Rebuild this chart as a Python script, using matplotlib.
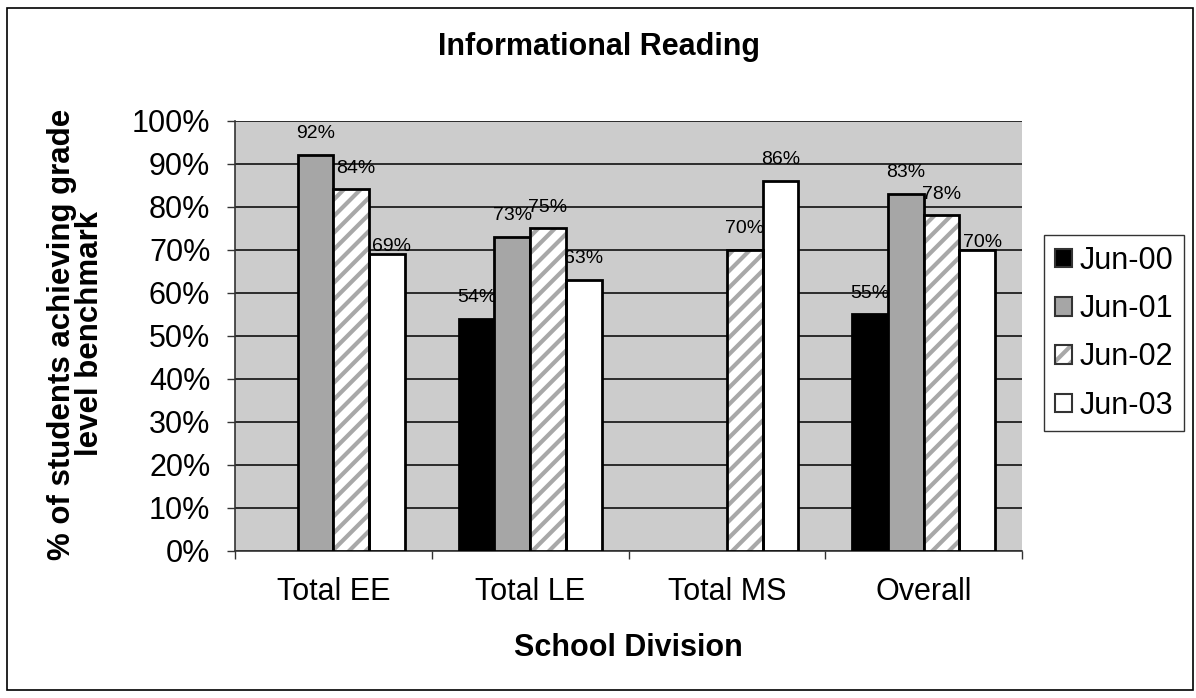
import matplotlib
matplotlib.use("Agg")
import matplotlib.pyplot as plt
from matplotlib.patches import Patch, Rectangle
from matplotlib.legend_handler import HandlerTuple
import numpy as np

plt.rcParams['font.family'] = ['Liberation Sans', 'DejaVu Sans']
plt.rcParams['hatch.linewidth'] = 3.0

# Data
categories = ["Total EE", "Total LE", "Total MS", "Overall"]
series_names = ["Jun-00", "Jun-01", "Jun-02", "Jun-03"]
jun_00 = [None, 54, None, 55]
jun_01 = [92, 73, None, 83]
jun_02 = [84, 75, 70, 78]
jun_03 = [69, 63, 86, 70]
series_values = [jun_00, jun_01, jun_02, jun_03]
y_ticks = [0, 10, 20, 30, 40, 50, 60, 70, 80, 90, 100]

# Styles
face_colors = ["#000000", "#A6A6A6", "#FFFFFF", "#FFFFFF"]
hatches = [None, None, "//", None]
hatch_color = "#A8A8A8"
plot_bg = "#CCCCCC"

W, H = 1196, 698
fig = plt.figure(figsize=(W / 100, H / 100), dpi=100)
fig.patch.set_facecolor("white")

# Outer chart border
fig.patches.append(Rectangle((7 / W, 1 - 690 / H), 1186 / W, 682 / H,
                             transform=fig.transFigure, fill=False,
                             edgecolor="black", linewidth=1.2))

ax = fig.add_axes([235 / W, 1 - 551 / H, 787 / W, 430.5 / H])
ax.set_facecolor(plot_bg)

n_series = len(series_values)
bar_w = 1 / (n_series + 1.5)
centers = np.arange(len(categories)) + 0.5

# small label nudges (points) per (series, category)
label_nudge = {(3, 0): (3, -10), (3, 3): (4, -10), (2, 0): (3, 0)}

handles = []
for i, vals in enumerate(series_values):
    xs = centers + (i - (n_series - 1) / 2) * bar_w
    for j, (x, v) in enumerate(zip(xs, vals)):
        if v is None:
            continue
        if hatches[i]:
            ax.bar(x, v, width=bar_w, color=face_colors[i], hatch=hatches[i],
                   edgecolor=hatch_color, linewidth=0, zorder=3)
            ax.bar(x, v, width=bar_w, fill=False, edgecolor="black",
                   linewidth=2, zorder=4)
        else:
            ax.bar(x, v, width=bar_w, color=face_colors[i],
                   edgecolor="black", linewidth=2, zorder=3)
        dx, dy = label_nudge.get((i, j), (0, 0))
        ax.annotate(f"{v}%", (x, v), xytext=(dx, 9 + dy),
                    textcoords="offset points", ha="center", va="bottom",
                    fontsize=14, zorder=5)
    if hatches[i]:
        h = (Patch(facecolor=face_colors[i], hatch=hatches[i],
                   edgecolor=hatch_color, linewidth=0),
             Patch(fill=False, edgecolor="#333333", linewidth=1.5))
    else:
        h = Patch(facecolor=face_colors[i], edgecolor="#333333", linewidth=1.5)
    handles.append(h)

ax.set_xlim(0, len(categories))
ax.set_ylim(0, 100)
ax.set_yticks(y_ticks)
ax.set_yticklabels([f"{t}%" for t in y_ticks], fontsize=22)
ax.yaxis.grid(True, color="black", linewidth=1.1, zorder=1)
ax.set_axisbelow(True)

ax.set_xticks(np.arange(len(categories) + 1))
ax.set_xticklabels([])
ax.set_xticks(centers, minor=True)
ax.set_xticklabels(categories, minor=True, fontsize=22)
ax.tick_params(axis="x", which="major", length=5.8, width=1, color="#333333", direction="out")
ax.tick_params(axis="x", which="minor", length=0, pad=19)
ax.tick_params(axis="y", length=5.8, width=1, color="#333333", pad=12)

for s in ["top", "right"]:
    ax.spines[s].set_visible(False)
for s in ["left", "bottom"]:
    ax.spines[s].set_color("#333333")
    ax.spines[s].set_linewidth(1.2)

fig.text(599 / W, 1 - 47 / H, "Informational Reading", ha="center", va="center",
         fontsize=22, fontweight="bold")
fig.text(628 / W, 1 - 648 / H, "School Division", ha="center", va="center",
         fontsize=22, fontweight="bold")
fig.text(76 / W, 1 - 334 / H, "% of students achieving grade\nlevel benchmark",
         ha="center", va="center", rotation=90, fontsize=22.5, fontweight="bold",
         multialignment="center", linespacing=0.95)

leg = fig.legend(handles, series_names, loc="upper left",
                 bbox_to_anchor=(1044 / W, 1 - 235 / H), bbox_transform=fig.transFigure,
                 borderaxespad=0, fontsize=22, frameon=True, fancybox=False,
                 edgecolor="black", handlelength=0.56, handleheight=0.56,
                 handletextpad=0.25, borderpad=0.35, labelspacing=0.6,
                 handler_map={tuple: HandlerTuple(ndivide=1)})
leg.get_frame().set_linewidth(1.0)

fig.savefig("out.png", dpi=100)
